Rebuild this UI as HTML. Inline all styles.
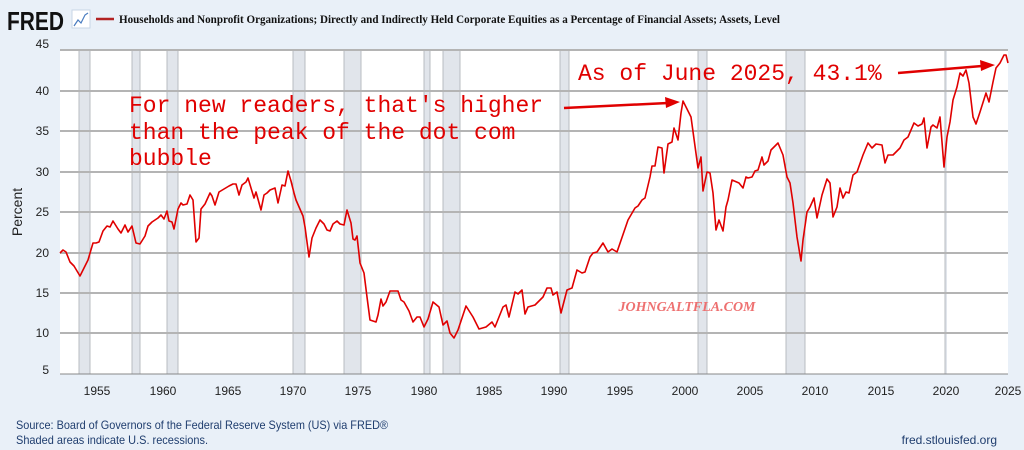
<!DOCTYPE html>
<html><head><meta charset="utf-8"><style>
body{margin:0;background:#e9f0f8;width:1024px;height:450px;overflow:hidden}
svg{display:block}
</style></head><body>
<svg width="1024" height="450" xmlns="http://www.w3.org/2000/svg">
<rect width="1024" height="450" fill="#e9f0f8"/>
<text x="7" y="30" font-family="Liberation Sans, sans-serif" font-weight="bold" font-size="26" fill="#111" textLength="57" lengthAdjust="spacingAndGlyphs">FRED</text>
<rect x="72" y="10" width="18" height="18" fill="#fff" stroke="#c8d6e6"/>
<polyline points="74,26 78,20 81,23 85,15 88,13" fill="none" stroke="#4a7cc0" stroke-width="1.2"/>
<line x1="96" y1="19" x2="114" y2="19" stroke="#b22222" stroke-width="2.5"/>
<text x="119" y="23" font-family="Liberation Serif, serif" font-weight="bold" font-size="12" fill="#111" textLength="661" lengthAdjust="spacingAndGlyphs">Households and Nonprofit Organizations; Directly and Indirectly Held Corporate Equities as a Percentage of Financial Assets; Assets, Level</text>
<rect x="60" y="50" width="948" height="324" fill="#fff"/>
<g fill="#e1e5eb">
<rect x="79" y="50" width="11" height="324"/><rect x="132" y="50" width="8" height="324"/>
<rect x="167" y="50" width="11" height="324"/><rect x="293" y="50" width="12" height="324"/>
<rect x="344" y="50" width="17" height="324"/><rect x="424" y="50" width="6" height="324"/>
<rect x="443" y="50" width="17" height="324"/><rect x="560" y="50" width="9" height="324"/>
<rect x="698" y="50" width="9" height="324"/><rect x="786" y="50" width="19" height="324"/>
<rect x="945" y="50" width="2" height="324"/>
</g>
<g stroke="#b8bcc2" stroke-width="1">
<line x1="79" y1="50" x2="79" y2="374"/><line x1="90" y1="50" x2="90" y2="374"/>
<line x1="132" y1="50" x2="132" y2="374"/><line x1="140" y1="50" x2="140" y2="374"/>
<line x1="167" y1="50" x2="167" y2="374"/><line x1="178" y1="50" x2="178" y2="374"/>
<line x1="293" y1="50" x2="293" y2="374"/><line x1="305" y1="50" x2="305" y2="374"/>
<line x1="344" y1="50" x2="344" y2="374"/><line x1="361" y1="50" x2="361" y2="374"/>
<line x1="424" y1="50" x2="424" y2="374"/><line x1="430" y1="50" x2="430" y2="374"/>
<line x1="443" y1="50" x2="443" y2="374"/><line x1="460" y1="50" x2="460" y2="374"/>
<line x1="560" y1="50" x2="560" y2="374"/><line x1="569" y1="50" x2="569" y2="374"/>
<line x1="698" y1="50" x2="698" y2="374"/><line x1="707" y1="50" x2="707" y2="374"/>
<line x1="786" y1="50" x2="786" y2="374"/><line x1="805" y1="50" x2="805" y2="374"/>
<line x1="945" y1="50" x2="945" y2="374"/>
</g>
<g stroke="#b4b4b4" stroke-width="2">
<line x1="60" y1="50" x2="1008" y2="50"/><line x1="60" y1="91" x2="1008" y2="91"/>
<line x1="60" y1="131" x2="1008" y2="131"/><line x1="60" y1="172" x2="1008" y2="172"/>
<line x1="60" y1="212" x2="1008" y2="212"/><line x1="60" y1="253" x2="1008" y2="253"/>
<line x1="60" y1="293" x2="1008" y2="293"/><line x1="60" y1="333" x2="1008" y2="333"/>
</g>
<line x1="60" y1="374" x2="1008" y2="374" stroke="#888" stroke-width="1"/>
<g font-family="Liberation Sans, sans-serif" font-size="12" fill="#222" text-anchor="end">
<text x="49" y="48">45</text><text x="49" y="95">40</text><text x="49" y="135">35</text><text x="49" y="176">30</text>
<text x="49" y="216">25</text><text x="49" y="257">20</text><text x="49" y="297">15</text><text x="49" y="337">10</text><text x="49" y="374">5</text>
</g>
<g font-family="Liberation Sans, sans-serif" font-size="12" fill="#222" text-anchor="middle">
<text x="97" y="395">1955</text><text x="163" y="395">1960</text><text x="228" y="395">1965</text><text x="293" y="395">1970</text>
<text x="358" y="395">1975</text><text x="424" y="395">1980</text><text x="489" y="395">1985</text><text x="554" y="395">1990</text>
<text x="620" y="395">1995</text><text x="685" y="395">2000</text><text x="750" y="395">2005</text><text x="815" y="395">2010</text>
<text x="881" y="395">2015</text><text x="946" y="395">2020</text><text x="1008" y="395">2025</text>
</g>
<text transform="translate(22,212) rotate(-90)" font-family="Liberation Sans, sans-serif" font-size="14" fill="#222" text-anchor="middle">Percent</text>
<polyline fill="none" stroke="#e00000" stroke-width="1.6" stroke-linejoin="round" points="60,253 63,250 66,252 70,262 74,266 80,276 88,260 93,243 96,243 99,242 103,231 107,226 110,227 113,221 118,229 121,233 125,225 128,232 132,226 136,243 140,244 145,236 148,226 152,222 158,218 161,215 164,219 167,211 169,221 172,222 174,229 178,209 181,203 183,205 187,204 190,195 193,200 196,242 199,238 201,209 205,204 210,193 212,196 215,205 219,192 224,189 229,186 233,184 236,184 239,195 242,185 246,182 248,178 254,198 256,192 261,210 264,195 267,193 270,190 275,188 278,203 282,185 285,186 288,171 291,181 294,193 296,200 303,216 305,227 309,257 312,238 316,228 320,220 324,224 327,230 330,231 333,224 337,221 340,224 344,225 347,210 351,223 353,239 355,240 357,236 360,263 364,273 367,297 370,320 373,321 376,322 378,315 381,299 383,306 386,302 390,291 394,291 398,291 401,300 404,302 409,311 413,322 417,317 420,317 424,327 428,319 433,302 439,307 443,325 447,321 450,333 454,338 458,330 466,306 473,317 479,329 486,327 492,322 495,327 503,307 506,305 509,317 515,292 518,294 522,290 525,314 528,307 535,305 543,297 547,288 551,288 553,295 557,292 561,313 567,290 572,288 577,270 582,273 585,272 590,257 593,253 597,252 603,243 608,252 612,249 617,252 628,220 635,208 638,206 642,200 645,198 650,177 652,166 655,166 658,147 662,148 664,173 668,144 672,142 674,128 678,140 681,113 683,101 686,107 691,117 698,168 701,157 703,191 707,172 710,173 713,193 716,230 719,220 723,231 726,207 728,200 732,180 739,183 743,188 746,177 748,178 752,177 755,171 758,170 762,157 764,165 768,161 771,150 778,143 783,155 787,177 790,183 793,203 797,237 801,261 803,240 807,212 810,207 814,198 817,218 822,195 827,179 830,183 833,217 837,207 840,188 843,198 846,192 849,193 853,175 857,172 863,155 868,143 872,148 876,144 882,145 885,163 888,155 893,155 900,148 904,140 908,137 914,123 918,126 922,124 924,118 927,148 931,127 933,125 937,128 940,117 944,167 947,137 950,122 953,100 957,87 960,73 963,76 966,70 969,83 973,117 976,124 980,112 986,93 989,102 993,82 996,68 1000,63 1004,55 1006,55 1008,63"/>
<g font-family="Liberation Mono, monospace" font-size="23" fill="#e00000">
<text x="129" y="112">For new readers, that's higher</text>
<text x="129" y="139">than the peak of the dot com</text>
<text x="129" y="165">bubble</text>
<text x="578" y="80">As of June 2025, 43.1%</text>
</g>
<line x1="564" y1="108" x2="668" y2="103" stroke="#e00000" stroke-width="2.5"/>
<polygon points="680,102 665,97 666,108" fill="#e00000"/>
<line x1="898" y1="73" x2="982" y2="66" stroke="#e00000" stroke-width="2.5"/>
<polygon points="995,65 980,60 981,71" fill="#e00000"/>
<text x="687" y="311" font-family="Liberation Serif, serif" font-style="italic" font-weight="bold" font-size="14" fill="#ee7070" text-anchor="middle">JOHNGALTFLA.COM</text>
<g font-family="Liberation Sans, sans-serif" font-size="12" fill="#1f3d6e">
<text x="16" y="429" textLength="372" lengthAdjust="spacingAndGlyphs">Source: Board of Governors of the Federal Reserve System (US) via FRED®</text>
<text x="16" y="444" textLength="192" lengthAdjust="spacingAndGlyphs">Shaded areas indicate U.S. recessions.</text>
<text x="997" y="444" text-anchor="end">fred.stlouisfed.org</text>
</g>
</svg>
</body></html>
